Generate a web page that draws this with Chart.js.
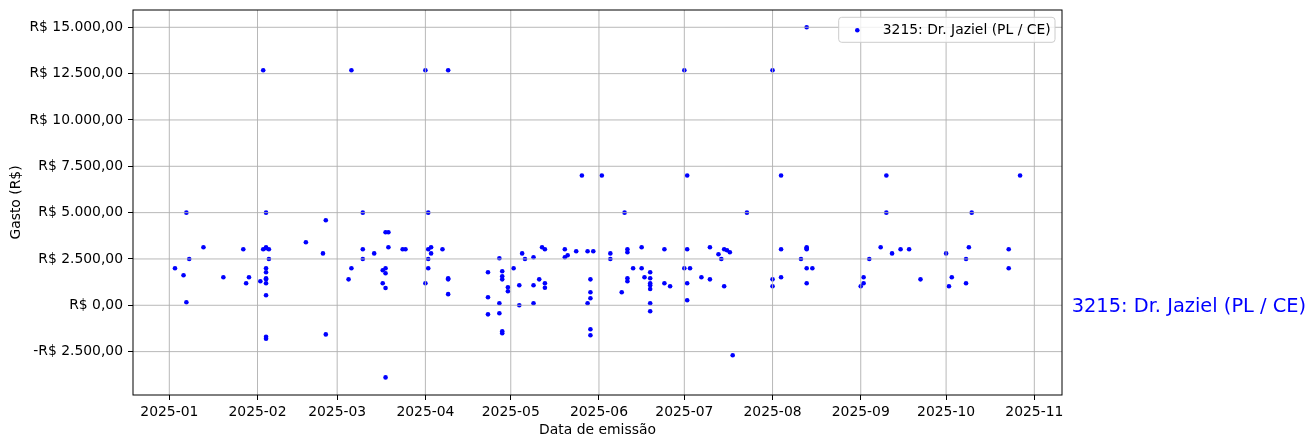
<!DOCTYPE html>
<html><head><meta charset="utf-8">
<script src="https://cdn.jsdelivr.net/npm/chart.js@4.4.1/dist/chart.umd.min.js"></script>
<style>html,body{margin:0;padding:0;background:#fff;overflow:hidden}canvas{display:block}</style>
</head><body>
<canvas id="c" width="1316" height="448" style="width:1316px;height:448px"></canvas>
<script>
const seriesLabel = '3215: Dr. Jaziel (PL / CE)';
const xAxisTitle = 'Data de emissão';
const yAxisTitle = 'Gasto (R$)';

const dates = [
 '2025-01-03','2025-01-07','2025-01-06','2025-01-07','2025-01-08','2025-01-13','2025-01-20','2025-01-27','2025-01-28','2025-01-29',
 '2025-02-02','2025-02-03','2025-02-04','2025-02-03','2025-02-04','2025-02-04','2025-02-05','2025-02-05','2025-02-04','2025-02-04',
 '2025-02-04','2025-02-04','2025-02-04','2025-02-04','2025-02-04','2025-02-04','2025-02-18','2025-02-25','2025-02-24','2025-02-25',
 '2025-03-06','2025-03-10','2025-03-10','2025-03-10','2025-03-06','2025-03-05','2025-03-14','2025-03-18','2025-03-19','2025-03-19',
 '2025-03-24','2025-03-25','2025-03-17','2025-03-18','2025-03-18','2025-03-17','2025-03-18','2025-03-18','2025-04-01','2025-04-02',
 '2025-04-02','2025-04-03','2025-04-03','2025-04-02','2025-04-02','2025-04-01','2025-04-07','2025-04-09','2025-04-09','2025-04-09',
 '2025-04-09','2025-04-23','2025-04-23','2025-04-23','2025-04-27','2025-04-27','2025-04-27','2025-04-28','2025-04-28','2025-04-28',
 '2025-04-28','2025-04-28','2025-04-30','2025-04-30','2025-05-02','2025-05-04','2025-05-04','2025-05-05','2025-05-06','2025-05-09',
 '2025-05-09','2025-05-09','2025-05-11','2025-05-12','2025-05-13','2025-05-13','2025-05-13','2025-05-20','2025-05-21','2025-05-20',
 '2025-05-24','2025-05-26','2025-05-28','2025-05-30','2025-05-29','2025-05-29','2025-05-29','2025-05-28','2025-05-29','2025-05-29',
 '2025-06-02','2025-06-05','2025-06-05','2025-06-10','2025-06-09','2025-06-11','2025-06-11','2025-06-11','2025-06-11','2025-06-13',
 '2025-06-16','2025-06-16','2025-06-17','2025-06-19','2025-06-19','2025-06-19','2025-06-19','2025-06-19','2025-06-19','2025-06-19',
 '2025-06-24','2025-06-24','2025-06-26','2025-07-01','2025-07-02','2025-07-02','2025-07-01','2025-07-03','2025-07-02','2025-07-02',
 '2025-07-10','2025-07-10','2025-07-07','2025-07-13','2025-07-14','2025-07-15','2025-07-16','2025-07-17','2025-07-15','2025-07-18',
 '2025-07-23','2025-08-01','2025-08-01','2025-08-01','2025-08-04','2025-08-04','2025-08-04','2025-08-13','2025-08-13','2025-08-13',
 '2025-08-13','2025-08-11','2025-08-13','2025-08-15','2025-08-13','2025-09-02','2025-09-02','2025-09-01','2025-09-04','2025-09-08',
 '2025-09-10','2025-09-10','2025-09-12','2025-09-15','2025-09-18','2025-09-22','2025-10-01','2025-10-02','2025-10-03','2025-10-08',
 '2025-10-08','2025-10-09','2025-10-10','2025-10-23','2025-10-23','2025-10-27'
];
const values = [
 2000,5000,1620,160,2500,3130,1510,3020,1190,1510,
 1300,12680,5000,3020,3075,3130,3020,2500,2000,1780,
 1460,1400,1190,540,-1700,-1800,3400,4590,2800,-1570,
 12680,5000,3020,2500,2000,1400,2800,3940,3940,3130,
 3020,3020,1890,2000,1730,1190,930,-3890,12680,5000,
 3020,3130,2800,2500,2000,1190,3020,12680,1460,1400,
 600,1780,430,-490,2540,110,-430,1835,1565,1400,
 -1400,-1510,970,755,2000,1080,0,2800,2500,2590,
 1080,110,1400,3130,3020,1190,950,2590,2700,3020,
 2914,7000,2914,2914,1400,700,380,110,-1295,-1620,
 7000,2800,2500,5000,700,3020,2860,1460,1300,2000,
 2000,3130,1510,1780,1460,1190,1080,880,110,-320,
 3020,1190,1025,12680,7000,3020,2000,2000,1190,270,
 3130,1400,1510,2750,2500,3020,2970,2860,1025,-2700,
 5000,12680,1400,1025,7000,3020,1510,15000,3130,3075,
 3020,2500,2000,2000,1190,1510,1190,1025,2500,3130,
 7000,5000,2800,3020,3020,1400,2800,1025,1510,2500,
 1190,3130,5000,3020,2000,7000
];
const monthTicks = ['2025-01-01','2025-02-01','2025-03-01','2025-04-01','2025-05-01','2025-06-01',
  '2025-07-01','2025-08-01','2025-09-01','2025-10-01','2025-11-01'];
const yTicks = [-2500, 0, 2500, 5000, 7500, 10000, 12500, 15000];

const DAY = 86400000;
const ts = s => Date.parse(s + 'T00:00:00Z');
const points = dates.map((d, i) => ({x: ts(d), y: values[i]}));

function brl(v) {
  const neg = v < 0, a = Math.abs(v);
  const int = Math.floor(a).toString().replace(/\B(?=(\d{3})+(?!\d))/g, '.');
  const dec = Math.round((a - Math.floor(a)) * 100).toString().padStart(2, '0');
  return (neg ? '-' : '') + 'R$ ' + int + ',' + dec;
}

const FONT = 'DejaVu Sans';
Chart.defaults.font.family = FONT;
Chart.defaults.font.size = 13.9;
Chart.defaults.color = '#000';

const overlay = {
  id: 'overlay',
  afterDatasetsDraw(chart) {
    const {ctx, chartArea: a, scales: {x, y}} = chart;
    ctx.save();
    ctx.beginPath(); ctx.rect(a.left, a.top, a.right - a.left, a.bottom - a.top); ctx.clip();
    ctx.strokeStyle = '#b0b0b0'; ctx.lineWidth = 0.9;
    x.ticks.forEach(t => {
      const p = x.getPixelForValue(t.value);
      ctx.beginPath(); ctx.moveTo(p, a.top); ctx.lineTo(p, a.bottom); ctx.stroke();
    });
    y.ticks.forEach(t => {
      const p = y.getPixelForValue(t.value);
      ctx.beginPath(); ctx.moveTo(a.left, p); ctx.lineTo(a.right, p); ctx.stroke();
    });
    ctx.restore();
    ctx.save();
    ctx.strokeStyle = '#000'; ctx.lineWidth = 1;
    ctx.strokeRect(a.left, a.top, a.right - a.left, a.bottom - a.top);
    // legend
    const bx = a.right - 223.3, by = a.top + 7.3, bw = 216.3, bh = 25;
    ctx.beginPath();
    ctx.roundRect(bx, by, bw, bh, 3);
    ctx.fillStyle = 'rgba(255,255,255,0.8)'; ctx.fill();
    ctx.strokeStyle = '#cccccc'; ctx.lineWidth = 1; ctx.stroke();
    ctx.fillStyle = '#0000ff';
    ctx.beginPath(); ctx.arc(bx + 18.6, by + 13, 2.3, 0, Math.PI * 2); ctx.fill();
    ctx.fillStyle = '#000';
    ctx.font = '13.9px "' + FONT + '"';
    ctx.textBaseline = 'alphabetic'; ctx.textAlign = 'left';
    ctx.fillText(chart.data.datasets[0].label, bx + 44, by + 16.2);
    // right annotation at y = 0
    ctx.fillStyle = '#0000ff';
    ctx.font = '19.4px "' + FONT + '"';
    ctx.fillText(chart.data.datasets[0].label, a.right + 9.7, y.getPixelForValue(0) + 6.6);
    ctx.restore();
  }
};

new Chart(document.getElementById('c'), {
  type: 'scatter',
  data: {datasets: [{
    label: seriesLabel, data: points,
    backgroundColor: '#0000ff', borderColor: '#0000ff', borderWidth: 0,
    pointRadius: 2.3, pointHoverRadius: 2.3
  }]},
  options: {
    responsive: false, animation: false, events: [], devicePixelRatio: 1,
    layout: {padding: {left: 0, right: 254, top: 10, bottom: 0}},
    plugins: {legend: {display: false}, tooltip: {enabled: false}},
    scales: {
      x: {
        type: 'linear',
        min: ts('2025-01-01') - 12.76 * DAY,
        max: ts('2025-11-01') + 9.73 * DAY,
        afterBuildTicks: s => { s.ticks = monthTicks.map(m => ({value: ts(m)})); },
        afterFit: s => { s.height = 53; s.paddingLeft = 0; s.paddingRight = 0; },
        ticks: {autoSkip: false, maxRotation: 0, padding: 4,
          callback: v => new Date(v).toISOString().slice(0, 7)},
        grid: {drawOnChartArea: false, drawTicks: true, tickLength: 5, color: '#000'},
        border: {display: false},
        title: {display: true, text: xAxisTitle, font: {size: 13.9, lineHeight: 1.2}, padding: {top: 0, bottom: 9.7}}
      },
      y: {
        min: -4841, max: 15934,
        afterBuildTicks: s => { s.ticks = yTicks.map(v => ({value: v})); },
        afterFit: s => { s.width = 133; s.paddingTop = 0; s.paddingBottom = 0; },
        ticks: {padding: 5, callback: v => brl(v)},
        grid: {drawOnChartArea: false, drawTicks: true, tickLength: 5, color: '#000'},
        border: {display: false},
        title: {display: true, text: yAxisTitle, font: {size: 13.9, lineHeight: 1.2}, padding: {top: 7.7, bottom: 0}}
      }
    }
  },
  plugins: [overlay]
});
</script>
</body></html>
